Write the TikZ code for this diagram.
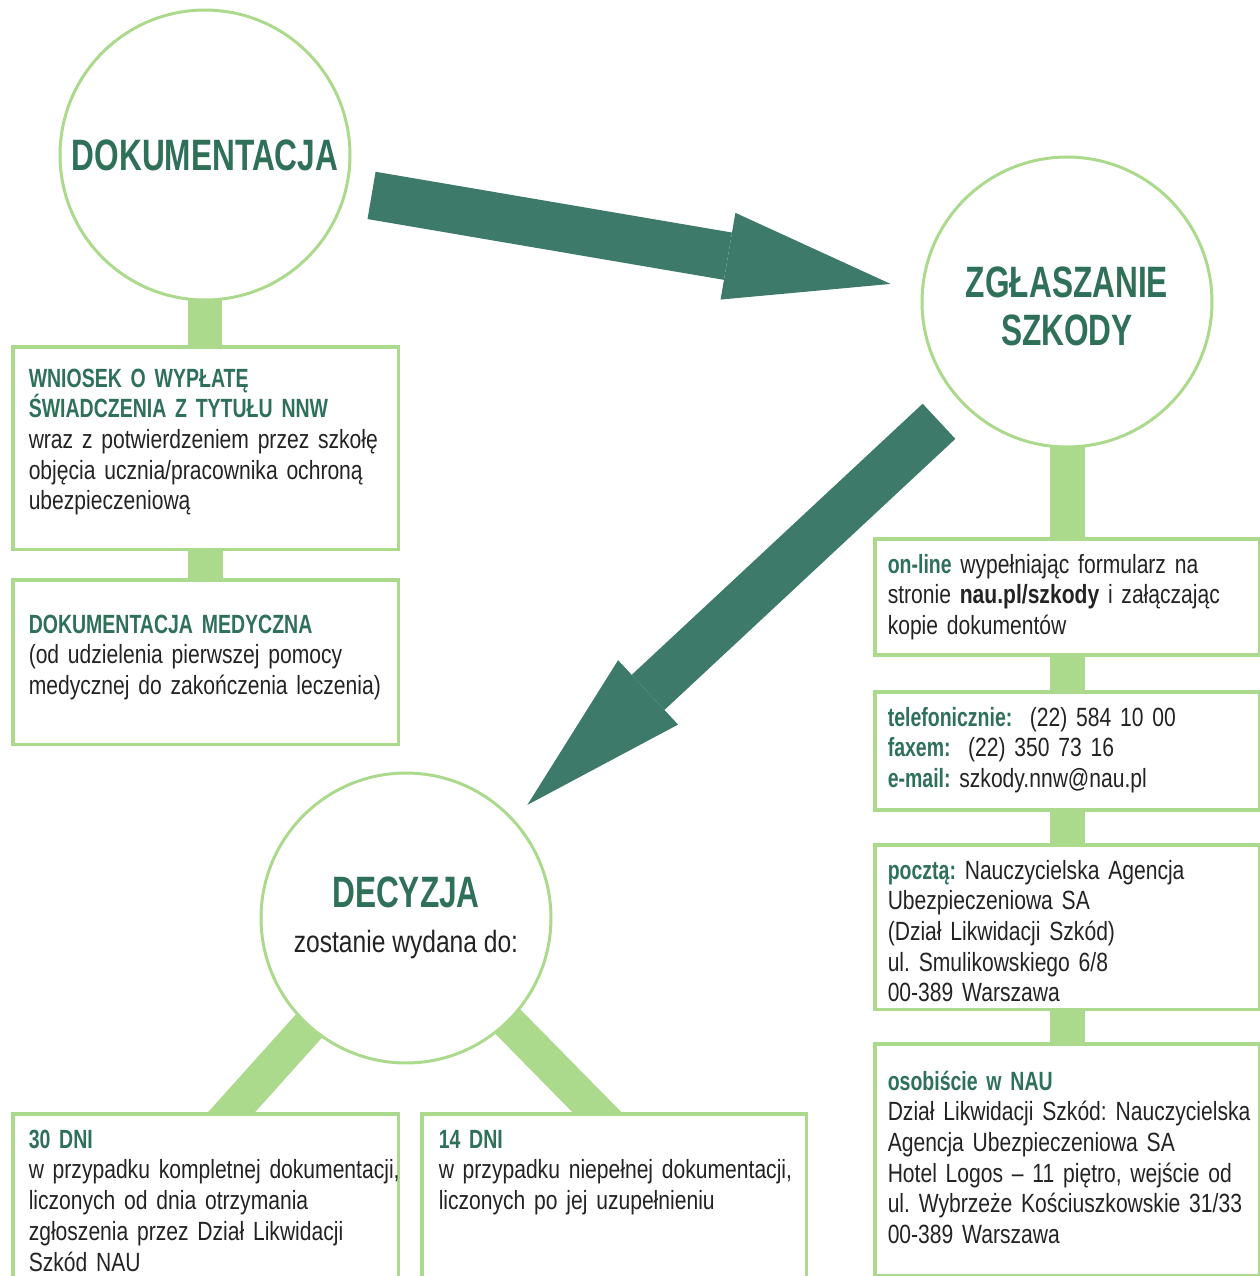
\documentclass[tikz,border=0pt]{standalone}
\usepackage{fontspec}
\setmainfont{Liberation Sans}[FakeStretch=0.8]
\newfontfamily\titlefont{Liberation Sans}[FakeStretch=0.72]
\newfontfamily\headfont{Liberation Sans}[FakeStretch=0.74]
\definecolor{NAUDark}{RGB}{62,122,106}
\definecolor{NAUTitle}{RGB}{47,112,89}
\definecolor{NAULight}{RGB}{172,218,140}
\definecolor{NAUText}{RGB}{35,35,35}
\usetikzlibrary{arrows.meta,positioning,calc,backgrounds}
\newcommand{\hd}[1]{{\headfont\bfseries\color{NAUTitle}#1}}

\begin{document}
\begin{tikzpicture}[x=0.02cm,y=-0.02cm,
    hub/.style={circle,draw=NAULight,line width=1.7pt,fill=white,
                minimum size=5.8cm,inner sep=0pt,align=center,
                font=\titlefont\fontsize{25}{27.5}\selectfont\bfseries,text=NAUTitle},
    panel/.style={draw=NAULight,line width=2pt,fill=white,anchor=north west,
                  inner xsep=3.2mm,inner ysep=3.2mm,text=NAUText,
                  font=\fontsize{15}{17.5}\selectfont,
                  execute at begin node={\frenchspacing\rightskip=-20mm plus 1fil\relax}},
    stem/.style={NAULight,line width=7mm},
    flow/.style={NAUDark,line width=9.6mm,
                 -{Triangle[length=33mm,width=17.6mm,line width=0pt 0 0]}}]
  \useasboundingbox (0,0) rectangle (1260,1276);
  % circles
  \node[hub] (dok) at (205,155) {DOKUMENTACJA};
  \node[hub] (zgl) at (1067,302) {ZGŁASZANIE\rule{0pt}{22.5pt}\\SZKODY};
  \node[hub] (decyzja) at (406,918)
    {DECYZJA\\[-2pt]{\normalfont\fontsize{17.5}{20}\selectfont\color{NAUText}zostanie wydana do:}};
  % left column
  \node[panel,text width=70.8mm,text height=4.85mm,text depth=29.35mm] (wniosek) at (11,345)
    {\hd{WNIOSEK O WYPŁATĘ\\ŚWIADCZENIA Z TYTUŁU NNW}\\wraz z potwierdzeniem przez szkołę\\objęcia ucznia/pracownika ochroną\\ubezpieczeniową};
  \node[panel,text width=70.8mm,text height=7.45mm,text depth=19.15mm] (medyczna) at (11,578)
    {\hd{DOKUMENTACJA MEDYCZNA}\\(od udzielenia pierwszej pomocy\\medycznej do zakończenia leczenia)};
  % right column
  \node[panel,inner xsep=2.6mm,text width=71.8mm,text height=3.65mm,text depth=13.15mm] (online) at (873,537)
    {\hd{on-line} wypełniając formularz na\\stronie \textbf{nau.pl/szkody} i załączając\\kopie dokumentów};
  \node[panel,inner xsep=2.6mm,text width=71.8mm,text height=3.65mm,text depth=13.55mm] (telefon) at (873,690)
    {\hd{telefonicznie:}\ \ (22) 584 10 00\\\hd{faxem:}\ \ (22) 350 73 16\\\hd{e-mail:} szkody.nnw@nau.pl};
  \node[panel,inner xsep=2.6mm,text width=71.8mm,text height=3.65mm,text depth=22.95mm] (poczta) at (873,843)
    {\hd{pocztą:} Nauczycielska Agencja\\Ubezpieczeniowa SA\\(Dział Likwidacji Szkód)\\ul. Smulikowskiego 6/8\\00-389 Warszawa};
  \node[panel,inner xsep=2.6mm,text width=71.8mm,text height=6.05mm,text depth=33.95mm] (osobiscie) at (873,1042)
    {\hd{osobiście w NAU}\\Dział Likwidacji Szkód: Nauczycielska\\Agencja Ubezpieczeniowa SA\\Hotel Logos -- 11 piętro, wejście od\\ul. Wybrzeże Kościuszkowskie 31/33\\00-389 Warszawa};
  % bottom row
  \node[panel,text width=70.8mm,text height=3.65mm,text depth=24.95mm] (dni30) at (11,1112)
    {\hd{30 DNI}\\w przypadku kompletnej dokumentacji,\\liczonych od dnia otrzymania\\zgłoszenia przez Dział Likwidacji\\Szkód NAU};
  \node[panel,inner xsep=3.4mm,text width=70.2mm,text height=3.65mm,text depth=24.95mm] (dni14) at (420,1112)
    {\hd{14 DNI}\\w przypadku niepełnej dokumentacji,\\liczonych po jej uzupełnieniu};
  % stems
  \begin{scope}[on background layer]
    \foreach \a/\b in {dok/wniosek,wniosek/medyczna,zgl/online,online/telefon,telefon/poczta,poczta/osobiscie}
      \draw[stem] (\a.center) -- (\a.center |- \b.center);
    \draw[stem] (decyzja.center) -- ($(decyzja.center)!1.1!([xshift=5.2mm]dni30.north)$);
    \draw[stem] (decyzja.center) -- ($(decyzja.center)!1.1!([xshift=-3.5mm]dni14.north)$);
  \end{scope}
  % big arrows
  \draw[flow,shorten <=33.8mm,shorten >=35.8mm] ([yshift=-2.4mm]dok.center) -- ([yshift=-2.4mm]zgl.center);
  \draw[flow,shorten <=35mm,shorten >=33.2mm] (zgl.center) -- (decyzja.center);
\end{tikzpicture}
\end{document}
